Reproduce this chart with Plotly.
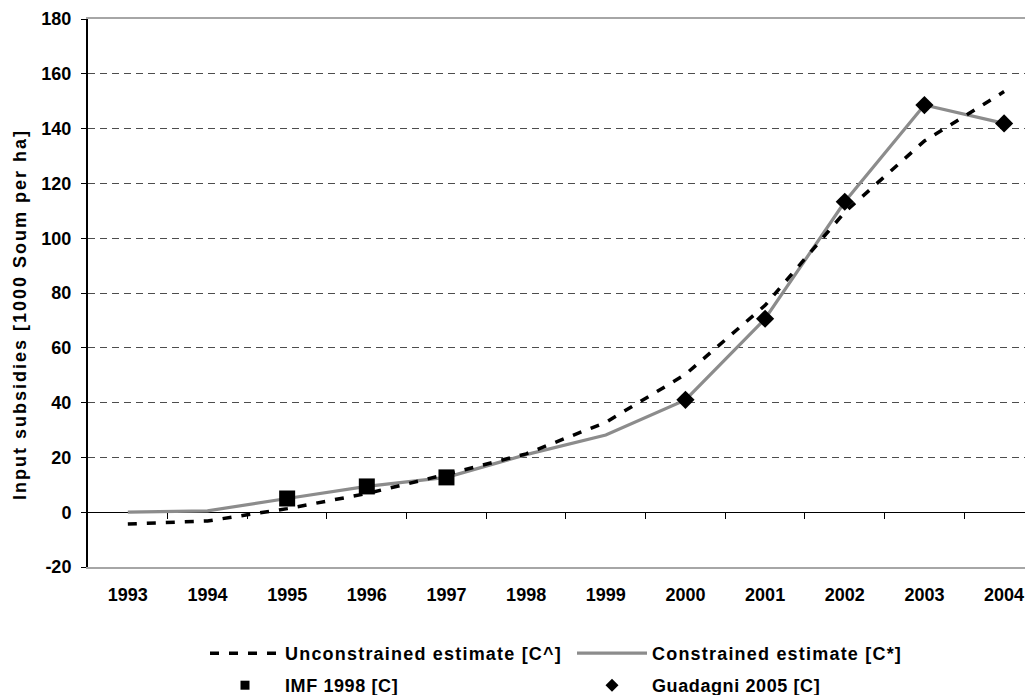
import plotly.graph_objects as go

years = [1993, 1994, 1995, 1996, 1997, 1998, 1999, 2000, 2001, 2002, 2003, 2004]
unconstrained = [-4.3, -3.2, 1.3, 6.8, 13.8, 21.3, 32.8, 50.3, 75.5, 109.5, 135.5, 153.5]
constrained = [0.0, 0.5, 5.0, 9.4, 12.7, 21.0, 28.2, 41.0, 70.6, 113.3, 148.6, 141.9]
imf_years = [1995, 1996, 1997]
imf_values = [5.0, 9.4, 12.7]
guad_years = [2000, 2001, 2002, 2003, 2004]
guad_values = [41.0, 70.6, 113.3, 148.6, 141.9]
y_ticks = [-20, 0, 20, 40, 60, 80, 100, 120, 140, 160, 180]
y_tick_text = ["-20", "0", "20", "40", "60", "80", "100", "120", "140", "160", "180"]
boundary_ticks = [1993.5, 1994.5, 1995.5, 1996.5, 1997.5, 1998.5,
                  1999.5, 2000.5, 2001.5, 2002.5, 2003.5, 2004.5]

FONT = "Liberation Sans, Arial, Helvetica, sans-serif"
OFF = 8  # default page body margin
W, H = 1033 - OFF, 695 - OFF
ML, MT, MR = 88 - OFF, 19 - OFF, 0
PLOT_H = 548
MB = H - MT - PLOT_H
PX_PER_YEAR = 79.66
x_lo = 1992.5
x_hi = x_lo + (W - ML - MR) / PX_PER_YEAR


def spaced(t, s):
    return f'<span style="letter-spacing:{s}px">{t}</span>'


fig = go.Figure()

fig.add_trace(go.Scatter(
    x=years, y=constrained, mode="lines", name=spaced("Constrained estimate [C*]", 1.2),
    line=dict(color="#8c8c8c", width=3.2), legend="legend", legendrank=2,
    hoverinfo="skip"))
fig.add_trace(go.Scatter(
    x=years, y=unconstrained, mode="lines", name=spaced("Unconstrained estimate [C^]", 1.2),
    line=dict(color="black", width=3.5, dash="9px,10px"), legend="legend",
    legendrank=1, hoverinfo="skip"))
fig.add_trace(go.Scatter(
    x=imf_years, y=imf_values, mode="markers", name="IMF 1998 [C]",
    marker=dict(symbol="square", size=16, color="black"),
    legendgroup="imf", showlegend=False))
fig.add_trace(go.Scatter(
    x=guad_years, y=guad_values, mode="markers", name="Guadagni 2005 [C]",
    marker=dict(symbol="diamond", size=14, color="black"),
    legendgroup="guad", showlegend=False))
# legend entries for the point series (smaller key symbols, as in the original)
fig.add_trace(go.Scatter(
    x=[None], y=[None], mode="markers", name=spaced("IMF 1998 [C]", 0.6),
    marker=dict(symbol="square", size=9, color="black"), legend="legend2",
    legendgroup="imf", legendrank=1))
fig.add_trace(go.Scatter(
    x=[None], y=[None], mode="markers", name=spaced("Guadagni 2005 [C]", 0.6),
    marker=dict(symbol="diamond", size=10, color="black"), legend="legend2",
    legendgroup="guad", legendrank=2))
# carrier for the zero-line tick marks axis
fig.add_trace(go.Scatter(
    x=years, y=constrained, xaxis="x2", mode="lines", opacity=0,
    line=dict(width=0), showlegend=False, hoverinfo="skip"))

legend_common = dict(
    orientation="h", xref="container", yref="container",
    x=(210 - 5 - OFF) / W, xanchor="left", yanchor="top",
    entrywidth=282, entrywidthmode="pixels", itemwidth=70,
    itemsizing="trace",
    font=dict(family=FONT, size=18, color="black", weight="bold"),
    bgcolor="rgba(0,0,0,0)", traceorder="normal",
)

fig.update_layout(
    width=W, height=H,
    margin=dict(l=ML, r=MR, t=MT, b=MB, autoexpand=False),
    paper_bgcolor="white", plot_bgcolor="white",
    font=dict(family=FONT, size=18, color="black"),
    showlegend=True,
    legend=dict(legend_common, y=1 - (635 - OFF) / H),
    legend2=dict(legend_common, y=1 - (667 - OFF) / H),
    xaxis=dict(
        range=[x_lo, x_hi], tickmode="array", tickvals=years,
        ticktext=[str(y) for y in years], automargin=False,
        tickfont=dict(family=FONT, size=18, color="black", weight="bold"),
        ticks="outside", ticklen=10, tickcolor="rgba(0,0,0,0)",
        showgrid=False, zeroline=False,
        showline=True, linecolor="#a6a6a6", linewidth=2, mirror=True,
    ),
    xaxis2=dict(
        range=[x_lo, x_hi], overlaying="x", anchor="free", position=0.1,
        side="bottom", tickmode="array", tickvals=boundary_ticks,
        ticks="outside", ticklen=6, tickcolor="black", tickwidth=1,
        showticklabels=False, showgrid=False, zeroline=False, showline=False,
        automargin=False,
    ),
    yaxis=dict(
        range=[-20, 180], tickmode="array", tickvals=y_ticks, ticktext=y_tick_text,
        automargin=False,
        tickfont=dict(family=FONT, size=18, color="black", weight="bold"),
        ticks="outside", ticklen=5, tickcolor="black", tickwidth=1,
        ticklabelstandoff=6,
        showgrid=True, gridcolor="#4d4d4d", gridwidth=1, griddash="7px,5px",
        zeroline=True, zerolinecolor="black", zerolinewidth=1,
        showline=True, linecolor="black", linewidth=2,
    ),
    annotations=[dict(
        text=spaced("Input subsidies [1000 Soum per ha]", 2.0), textangle=-90,
        xref="paper", x=0, xshift=-(88 - 20), xanchor="center",
        yref="paper", y=(567 - 315) / PLOT_H, yanchor="middle",
        showarrow=False,
        font=dict(family=FONT, size=18, color="black", weight="bold"),
    )],
)

fig.write_html("out.html")
